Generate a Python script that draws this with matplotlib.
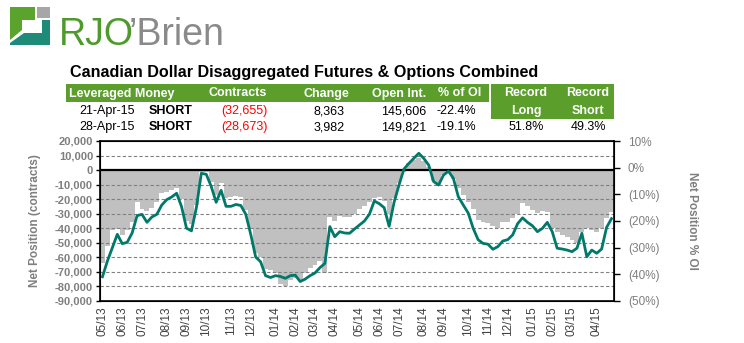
import numpy as np
import pandas as pd
import matplotlib
matplotlib.use("Agg")
import matplotlib.pyplot as plt
import matplotlib.dates as mdates
from matplotlib.patches import Rectangle, Polygon

plt.rcParams['font.family'] = ['Liberation Sans', 'DejaVu Sans']

# weekly report dates (Tuesdays)
dates = pd.date_range('2013-05-07', periods=104, freq='7D')

# net position, contracts (gray area, left axis)
net_position = [
    -64000, -52500, -41000, -40500, -44500, -41000, -35500, -22000, -27000, -28000,
    -26000, -22000, -16000, -15000, -13500, -12000, -20000, -35000, -37000, -24000,
    -1000, -1500, -8000, -17000, -9000, -19500, -18500, -18000, -18500, -27500,
    -40000, -57000, -60000, -68000, -69000, -71000, -78000, -80000, -75500, -74500,
    -76000, -71000, -67000, -65500, -62500, -71000, -32500, -35000, -31500, -32500,
    -32500, -30000, -27000, -25000, -22000, -19500, -18500, -21000, -30000, -19500,
    -9000, -1000, 5000, 7000, 8500, 6500, 2000, -7500, -10000, -3500,
    -1500, -6000, -12000, -17000, -22000, -27000, -34500, -36000, -36500, -38500,
    -39500, -36000, -35500, -33000, -30000, -22500, -25000, -27500, -29500, -28000,
    -28500, -40000, -42500, -44500, -46000, -48000, -50000, -42500, -40000, -41000,
    -42500, -40000, -32655, -28673,
]

# net position as % of open interest (green line, right axis)
pct_oi = [
    -40.9, -35.0, -30.0, -25.0, -28.5, -28.0, -24.5, -18.0, -17.5, -20.5,
    -18.5, -17.5, -14.0, -12.0, -11.0, -9.6, -14.6, -22.7, -23.7, -15.0,
    -2.1, -2.5, -7.0, -13.0, -8.5, -14.5, -14.5, -13.8, -14.2, -17.5,
    -25.0, -33.5, -35.3, -40.5, -41.2, -40.5, -40.8, -41.5, -40.5, -40.3,
    -42.7, -41.8, -40.5, -39.5, -37.5, -35.9, -22.1, -25.9, -24.0, -24.5,
    -24.6, -23.0, -21.5, -20.0, -17.5, -12.5, -13.5, -15.0, -22.0, -13.0,
    -6.5, -0.5, 1.6, 3.5, 5.4, 3.5, 1.0, -5.2, -6.5, -2.8,
    -1.3, -4.0, -10.9, -14.0, -17.0, -22.7, -27.0, -28.4, -28.7, -30.6,
    -29.6, -27.5, -27.0, -25.2, -21.0, -18.8, -20.5, -21.8, -24.0, -22.8,
    -20.5, -24.0, -30.2, -30.5, -30.9, -31.5, -30.2, -24.6, -33.4, -30.9,
    -32.1, -30.5, -22.4, -19.1,
]

left_ticks = list(range(-90000, 20001, 10000))
right_ticks = list(range(-50, 11, 10))

title = "Canadian Dollar Disaggregated Futures & Options Combined"
header = ["Leveraged Money", "Contracts", "Change", "Open Int.", "% of OI"]
rows = [
    ["21-Apr-15", "SHORT", "(32,655)", "8,363", "145,606", "-22.4%"],
    ["28-Apr-15", "SHORT", "(28,673)", "3,982", "149,821", "-19.1%"],
]
record_long = "51.8%"
record_short = "49.3%"

GREEN = '#5b9e2c'
TEAL = '#00796a'
GRAY_TXT = '#7f7f7f'

W, H = 744, 343
fig = plt.figure(figsize=(W / 100, H / 100), dpi=100)

# overlay in pixel coordinates for logo and table
ov = fig.add_axes([0, 0, 1, 1])
ov.set_xlim(0, W)
ov.set_ylim(H, 0)
ov.axis('off')

# logo
ov.add_patch(Polygon([(10, 7), (35, 7), (35, 20), (22, 20), (22, 30), (10, 40)],
                     closed=True, color='#5aa32c', lw=0))
ov.add_patch(Rectangle((37, 7), 13, 11, color='#a6a6a6', lw=0))
ov.add_patch(Polygon([(10, 45), (50, 45), (50, 20), (42, 20), (42, 33), (24, 33), (10, 43)],
                     closed=True, color='#1d8b78', lw=0))
ov.text(59, 45, "RJO", color='#4f9a2c', fontsize=27, va='baseline', ha='left')
ov.text(129, 45, "\u2019Brien", color='#8a8a8a', fontsize=27, va='baseline', ha='left')

# title and table
ov.text(70, 73, title, fontsize=11.6, fontweight='bold', va='center', ha='left')
ov.add_patch(Rectangle((66, 84), 423, 18, color=GREEN, lw=0))
ov.add_patch(Rectangle((491, 84), 123, 35, color=GREEN, lw=0))
hy = 93.5
ov.text(69, hy, header[0], color='white', fontweight='bold', fontsize=9, va='center', ha='left')
for txt, cx in zip(header[1:], [238, 326, 399, 460]):
    ov.text(cx, hy, txt, color='white', fontweight='bold', fontsize=9, va='center', ha='center')
ov.text(526, hy, "Record", color='white', fontweight='bold', fontsize=9, va='center', ha='center')
ov.text(588, hy, "Record", color='white', fontweight='bold', fontsize=9, va='center', ha='center')
ov.text(526, 111, "Long", color='white', fontweight='bold', fontsize=9, va='center', ha='center')
ov.text(588, 111, "Short", color='white', fontweight='bold', fontsize=9, va='center', ha='center')
for row, ry in zip(rows, [111, 127]):
    ov.text(135, ry, row[0], fontsize=9, va='center', ha='right')
    ov.text(149, ry, row[1], fontsize=9, fontweight='bold', va='center', ha='left')
    ov.text(268, ry, row[2], fontsize=9, color='red', va='center', ha='right')
    ov.text(345, ry, row[3], fontsize=9, va='center', ha='right')
    ov.text(426, ry, row[4], fontsize=9, va='center', ha='right')
    ov.text(476, ry, row[5], fontsize=9, va='center', ha='right')
ov.text(526, 127, record_long, fontsize=9, va='center', ha='center')
ov.text(588, 127, record_short, fontsize=9, va='center', ha='center')

# chart
ax = fig.add_axes([100 / W, 42 / H, 514 / W, 160 / H])
x = mdates.date2num(dates)
ax.bar(x, net_position, width=7, color='#c0c0c0', lw=0, zorder=1)
for v in left_ticks[1:-1]:
    if v != 0:
        ax.axhline(v, color='#808080', lw=0.8, ls=(0, (3, 2)), zorder=2)
ax.axhline(0, color='black', lw=1.6, zorder=3)
ax.set_ylim(-90000, 20000)
ax.set_yticks(left_ticks)
ax.set_yticklabels([f"{v:,}" for v in left_ticks])
ax.set_xlim(x[0] - 3.5, x[-1] + 3.5)
ax.set_ylabel("Net Position (contracts)", fontsize=8.5, fontweight='bold', color=GRAY_TXT, labelpad=10)
ax.tick_params(axis='y', labelsize=8, labelcolor=GRAY_TXT, length=3, width=1, pad=2)
for lab in ax.get_yticklabels():
    lab.set_fontweight('bold')

# first report of each month as x ticks
s = pd.Series(dates)
firsts = s.groupby([s.dt.year, s.dt.month]).first()
ax.set_xticks(mdates.date2num(firsts))
ax.set_xticklabels([d.strftime('%m/%y') for d in firsts], rotation=90, fontsize=8.5, color='#404040')
ax.tick_params(axis='x', length=0, pad=4)
for sp in ax.spines.values():
    sp.set_linewidth(1.2)

ax2 = ax.twinx()
ax2.plot(x, pct_oi, color=TEAL, lw=2, zorder=5)
ax2.set_ylim(-50, 10)
ax2.set_yticks(right_ticks)
ax2.set_yticklabels([f"{v}%" if v >= 0 else f"({-v}%)" for v in right_ticks])
ax2.tick_params(axis='y', labelsize=8.5, labelcolor=GRAY_TXT, length=4, width=1, pad=6)
ax2.set_ylabel("Net Position % OI", fontsize=8.5, fontweight='bold', color=GRAY_TXT,
               rotation=270, labelpad=28)

fig.savefig("out.png", dpi=100)
